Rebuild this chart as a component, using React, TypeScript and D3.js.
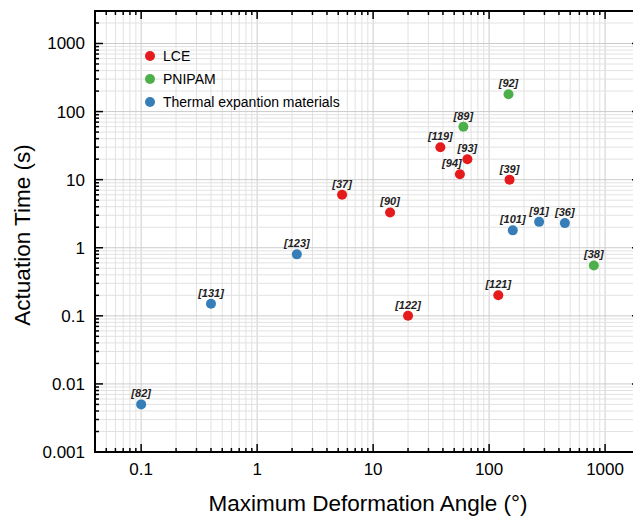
import React, { useEffect, useRef } from "react";
import * as d3 from "d3";

// reference labels, deformation angle (deg), actuation time (s), material group
const refs = ["[82]", "[131]", "[123]", "[37]", "[90]", "[119]", "[89]", "[93]", "[94]", "[92]", "[39]", "[101]", "[91]", "[36]", "[38]", "[121]", "[122]"];
const angles = [0.1, 0.4, 2.2, 5.4, 14, 38, 60, 65, 56, 147, 150, 160, 270, 450, 800, 120, 20];
const times = [0.005, 0.15, 0.8, 6, 3.3, 30, 60, 20, 12, 180, 10, 1.8, 2.4, 2.3, 0.55, 0.2, 0.1];
const groups = ["T", "T", "T", "L", "L", "L", "P", "L", "L", "P", "L", "T", "T", "T", "P", "L", "L"];

const legendNames = ["LCE", "PNIPAM", "Thermal expantion materials"];
const legendKeys = ["L", "P", "T"];
const xTicks = [0.1, 1, 10, 100, 1000];
const yTicks = [0.001, 0.01, 0.1, 1, 10, 100, 1000];

const colors: Record<string, string> = { L: "#e41a1c", P: "#4daf4a", T: "#377eb8" };

const App = () => {
  const ref = useRef<SVGSVGElement>(null);

  useEffect(() => {
    const svg = d3.select(ref.current);
    svg.selectAll("*").remove();

    const margin = { top: 11, left: 95 };
    const width = 545;
    const height = 441;
    const font = "Liberation Sans, Arial, sans-serif";

    const x = d3.scaleLog().domain([0.04, 2000]).range([0, width]);
    const y = d3.scaleLog().domain([0.001, 3000]).range([height, 0]);

    const g = svg.append("g").attr("transform", `translate(${margin.left},${margin.top})`);

    // minor ticks / grid values
    const minorX: number[] = [];
    for (let e = -2; e <= 3; e++) for (let k = 1; k <= 9; k++) {
      const v = k * Math.pow(10, e);
      if (v >= 0.04 && v <= 2000) minorX.push(v);
    }
    const minorY: number[] = [];
    for (let e = -3; e <= 3; e++) for (let k = 1; k <= 9; k++) {
      const v = k * Math.pow(10, e);
      if (v >= 0.001 && v <= 3000) minorY.push(v);
    }

    // grid lines
    g.append("g").selectAll("line").data(minorX).enter().append("line")
      .attr("x1", d => x(d)).attr("x2", d => x(d)).attr("y1", 0).attr("y2", height)
      .attr("stroke", d => xTicks.includes(d) ? "#cccccc" : "#e2e2e2").attr("stroke-width", 1);
    g.append("g").selectAll("line").data(minorY).enter().append("line")
      .attr("y1", d => y(d)).attr("y2", d => y(d)).attr("x1", 0).attr("x2", width)
      .attr("stroke", d => yTicks.includes(d) ? "#cccccc" : "#e2e2e2").attr("stroke-width", 1);

    // inward ticks on all four sides
    const isMajorX = (d: number) => xTicks.includes(d);
    const isMajorY = (d: number) => yTicks.includes(d);
    g.append("g").selectAll("line").data(minorX).enter().append("line")
      .attr("x1", d => x(d)).attr("x2", d => x(d)).attr("y1", height)
      .attr("y2", d => height - (isMajorX(d) ? 8 : 4)).attr("stroke", "#000").attr("stroke-width", 1.5);
    g.append("g").selectAll("line").data(minorX).enter().append("line")
      .attr("x1", d => x(d)).attr("x2", d => x(d)).attr("y1", 0)
      .attr("y2", d => (isMajorX(d) ? 8 : 4)).attr("stroke", "#000").attr("stroke-width", 1.5);
    g.append("g").selectAll("line").data(minorY).enter().append("line")
      .attr("y1", d => y(d)).attr("y2", d => y(d)).attr("x1", 0)
      .attr("x2", d => (isMajorY(d) ? 8 : 4)).attr("stroke", "#000").attr("stroke-width", 1.5);
    g.append("g").selectAll("line").data(minorY).enter().append("line")
      .attr("y1", d => y(d)).attr("y2", d => y(d)).attr("x1", width)
      .attr("x2", d => width - (isMajorY(d) ? 8 : 4)).attr("stroke", "#000").attr("stroke-width", 1.5);

    // frame
    g.append("rect").attr("width", width).attr("height", height)
      .attr("fill", "none").attr("stroke", "#000").attr("stroke-width", 2);

    // tick labels
    g.append("g").selectAll("text").data(xTicks).enter().append("text")
      .attr("x", d => x(d)).attr("y", height + 23).attr("text-anchor", "middle")
      .style("font-family", font).style("font-size", "17px").text(d => String(d));
    g.append("g").selectAll("text").data(yTicks).enter().append("text")
      .attr("x", -10).attr("y", d => y(d) + 6).attr("text-anchor", "end")
      .style("font-family", font).style("font-size", "17px").text(d => String(d));

    // points
    const idx = d3.range(refs.length);
    g.append("g").selectAll("circle").data(idx).enter().append("circle")
      .attr("cx", i => x(angles[i])).attr("cy", i => y(times[i])).attr("r", 5)
      .attr("fill", i => colors[groups[i]]);

    g.append("g").selectAll("text").data(idx).enter().append("text")
      .attr("x", i => x(angles[i]) + (refs[i] === "[94]" ? -8 : 0))
      .attr("y", i => y(times[i]) - 7)
      .attr("text-anchor", "middle")
      .style("font-family", font).style("font-size", "11px")
      .style("font-weight", "bold").style("font-style", "italic")
      .attr("fill", "#222").text(i => refs[i]);

    // legend
    const lg = g.append("g").attr("transform", "translate(55,45)");
    lg.selectAll("circle").data(legendKeys).enter().append("circle")
      .attr("cx", 0).attr("cy", (_, i) => i * 23).attr("r", 5)
      .attr("fill", d => colors[d]);
    lg.selectAll("text").data(legendNames).enter().append("text")
      .attr("x", 13).attr("y", (_, i) => i * 23 + 5)
      .style("font-family", font).style("font-size", "14px").text(d => d);

    // axis titles
    svg.append("text")
      .attr("x", 368).attr("y", 511).attr("text-anchor", "middle")
      .style("font-family", font).style("font-size", "22.5px")
      .text("Maximum Deformation Angle (°)");
    svg.append("text")
      .attr("transform", "translate(30,235) rotate(-90)").attr("text-anchor", "middle")
      .style("font-family", font).style("font-size", "22.5px")
      .text("Actuation Time (s)");
  }, []);

  return (
    <svg ref={ref} width={633} height={516}
      style={{ position: "absolute", left: 0, top: 0, background: "#fff" }} />
  );
};

export default App;
